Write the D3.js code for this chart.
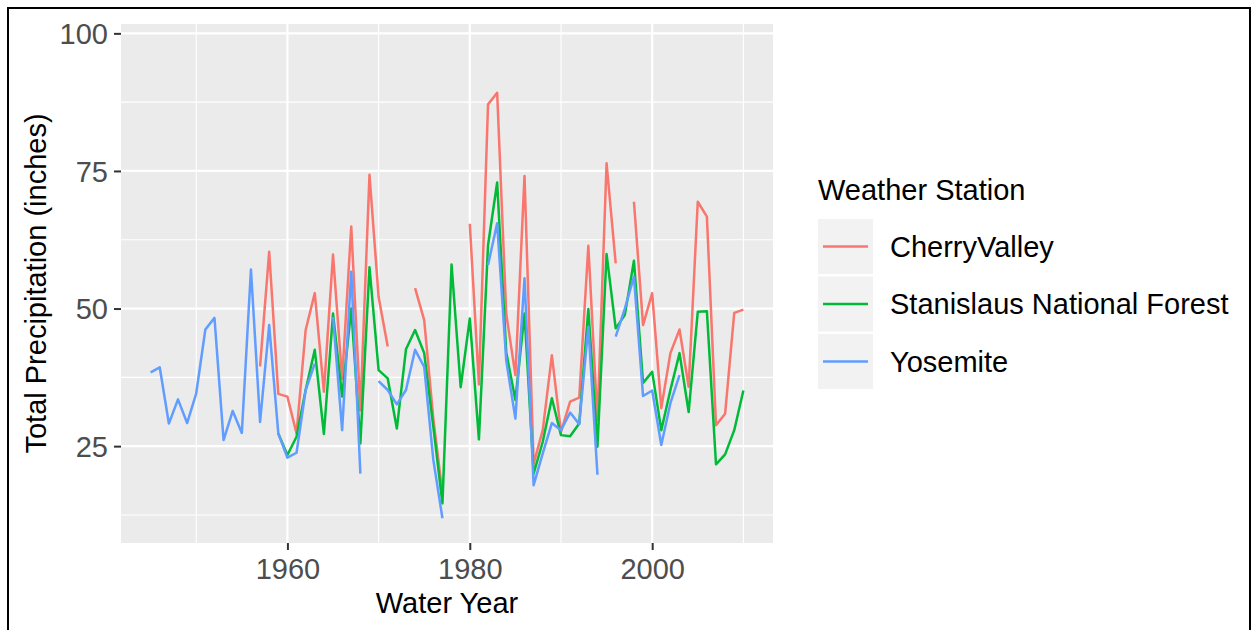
<!DOCTYPE html>
<html>
<head>
<meta charset="utf-8">
<script src="https://cdn.jsdelivr.net/npm/d3@7"></script>
<style>
  html, body { margin: 0; padding: 0; background: #ffffff; }
  svg { display: block; }
  text { font-family: "Liberation Sans", Arial, sans-serif; }
</style>
</head>
<body>
<svg id="chart" width="1257" height="630"></svg>
<script>
// Water years on the x axis
const years = d3.range(1945, 2011);

// Annual totals (inches); null marks years with no record
const cherryValley = [
  null, null, null, null, null, null, null, null, null, null, null, null,   // 1945-1956
  39.5, 60.3, 34.5, 34.0, 27.3, 46.1, 52.8, 34.9, 59.8, 37.2, 64.9, 31.5, 74.3, 52.1, 43.1, // 1957-1971
  null, null,                                                               // 1972-1973
  53.7, 47.9, 30.0, 16.4,                                                   // 1974-1977
  null, null,                                                               // 1978-1979
  65.4, 36.2, 87.1, 89.2, 49.0, 37.9, 74.1, 21.8, 27.9, 41.5, 27.6, 33.1, 33.8, 61.4, 29.7, 76.4, 58.2, // 1980-1996
  null,                                                                     // 1997
  69.4, 47.0, 52.8, 31.9, 41.9, 46.2, 35.8, 69.4, 66.7, 28.8, 30.9, 49.2, 49.8 // 1998-2010
];

const stanislaus = [
  null, null, null, null, null, null, null, null, null, null, null, null, null, null, // 1945-1958
  27.3, 23.4, 26.7, 35.2, 42.5, 27.2, 49.1, 34.0, 50.0, 25.5, 57.5, 38.8, 37.3, 28.2, // 1959-1972
  42.6, 46.1, 41.9, 28.5, 14.6, 58.0, 35.7, 48.2, 26.2, 61.5, 72.9, 42.0, 33.4,       // 1973-1985
  49.1, 20.0, 25.8, 33.7, 27.0, 26.8, 29.1, 49.9, 24.9, 59.9, 46.4, 48.8, 58.7,       // 1986-1998
  36.5, 38.5, 27.9, 35.2, 41.9, 31.2, 49.4, 49.5, 21.7, 23.5, 27.9, 35.1              // 1999-2010
];

const yosemite = [
  38.4, 39.3, 29.1, 33.5, 29.2, 34.6, 46.2, 48.3, 26.1, 31.4, 27.4, 57.1, 29.4, 47.0, // 1945-1958
  27.3, 22.9, 23.8, 35.2, 40.0,                                                       // 1959-1963
  null,                                                                               // 1964
  48.5, 27.9, 56.7, 20.0,                                                             // 1965-1968
  null,                                                                               // 1969
  36.8, 35.2, 32.6, 35.2, 42.5, 39.4, 22.5, 11.9,                                     // 1970-1977
  null, null, null, null,                                                             // 1978-1981
  57.9, 65.5, 40.5, 30.0, 55.5, 17.9, 23.7, 29.2, 27.9, 31.1, 29.0, 46.7, 19.8,       // 1982-1994
  null,                                                                               // 1995
  44.9, 50.0, 55.8, 34.1, 35.1, 25.2, 32.8, 37.9,                                     // 1996-2003
  null, null, null, null, null, null, null                                            // 2004-2010
];

const stationNames = ["CherryValley", "Stanislaus National Forest", "Yosemite"];
const stationColors = ["#F8766D", "#00BA38", "#619CFF"];
const stationValues = [cherryValley, stanislaus, yosemite];

const xMajorTicks = [1960, 1980, 2000];
const xMinorTicks = [1950, 1970, 1990, 2010];
const yMajorTicks = [25, 50, 75, 100];
const yMinorTicks = [12.5, 37.5, 62.5, 87.5];

const legendTitle = "Weather Station";
const xTitle = "Water Year";
const yTitle = "Total Precipitation (inches)";

// ---- layout ----
const svg = d3.select("#chart");
const panel = { left: 121, right: 773, top: 24, bottom: 543 };
const fontSize = 29;

const x = d3.scaleLinear().domain([1941.75, 2013.25]).range([panel.left, panel.right]);
const y = d3.scaleLinear().domain([7.4, 101.7]).range([panel.bottom, panel.top]);

// outer frame
svg.append("rect")
  .attr("x", 8).attr("y", 8)
  .attr("width", 1242).attr("height", 640)
  .attr("fill", "none").attr("stroke", "#000").attr("stroke-width", 2);

// panel background
svg.append("rect")
  .attr("x", panel.left).attr("y", panel.top)
  .attr("width", panel.right - panel.left).attr("height", panel.bottom - panel.top)
  .attr("fill", "#EBEBEB");

const grid = svg.append("g");
// minor grid
grid.selectAll("line.xmin").data(xMinorTicks).join("line")
  .attr("x1", d => x(d)).attr("x2", d => x(d))
  .attr("y1", panel.top).attr("y2", panel.bottom)
  .attr("stroke", "#fff").attr("stroke-width", 1.1);
grid.selectAll("line.ymin").data(yMinorTicks).join("line")
  .attr("x1", panel.left).attr("x2", panel.right)
  .attr("y1", d => y(d)).attr("y2", d => y(d))
  .attr("stroke", "#fff").attr("stroke-width", 1.1);
// major grid
grid.selectAll("line.xmaj").data(xMajorTicks).join("line")
  .attr("x1", d => x(d)).attr("x2", d => x(d))
  .attr("y1", panel.top).attr("y2", panel.bottom)
  .attr("stroke", "#fff").attr("stroke-width", 2.2);
grid.selectAll("line.ymaj").data(yMajorTicks).join("line")
  .attr("x1", panel.left).attr("x2", panel.right)
  .attr("y1", d => y(d)).attr("y2", d => y(d))
  .attr("stroke", "#fff").attr("stroke-width", 2.2);

// data lines, one path per station with gaps where a year is missing
const line = d3.line()
  .defined(d => d.v != null)
  .x(d => x(d.year))
  .y(d => y(d.v));

const lines = svg.append("g");
stationValues.forEach((vals, i) => {
  const pts = years.map((yr, j) => ({ year: yr, v: vals[j] }));
  lines.append("path")
    .datum(pts)
    .attr("d", line)
    .attr("fill", "none")
    .attr("stroke", stationColors[i])
    .attr("stroke-width", 2.5)
    .attr("stroke-linejoin", "round");
});

// axes
const yAxis = d3.axisLeft(y).tickValues(yMajorTicks).tickSize(7).tickPadding(6);
const gy = svg.append("g").attr("transform", `translate(${panel.left},0)`).call(yAxis);
gy.select(".domain").remove();
gy.selectAll(".tick line").attr("stroke", "#333333").attr("stroke-width", 2);
gy.selectAll(".tick text")
  .attr("fill", "#4D4D4D")
  .style("font-size", fontSize + "px")
  .attr("dy", "0.36em");

const xAxis = d3.axisBottom(x).tickValues(xMajorTicks).tickFormat(d3.format("d")).tickSize(7).tickPadding(7);
const gx = svg.append("g").attr("transform", `translate(0,${panel.bottom})`).call(xAxis);
gx.select(".domain").remove();
gx.selectAll(".tick line").attr("stroke", "#333333").attr("stroke-width", 2);
gx.selectAll(".tick text")
  .attr("fill", "#4D4D4D")
  .style("font-size", fontSize + "px")
  .attr("y", 36).attr("dy", 0);

// axis titles
svg.append("text")
  .attr("x", (panel.left + panel.right) / 2).attr("y", 613)
  .attr("text-anchor", "middle")
  .style("font-size", fontSize + "px")
  .attr("fill", "#000")
  .text(xTitle);

svg.append("text")
  .attr("transform", `translate(46,${(panel.top + panel.bottom) / 2}) rotate(-90)`)
  .attr("text-anchor", "middle")
  .style("font-size", fontSize + "px")
  .attr("fill", "#000")
  .text(yTitle);

// legend
const legend = svg.append("g").attr("transform", "translate(818,0)");
legend.append("text")
  .attr("x", 0).attr("y", 200)
  .style("font-size", fontSize + "px")
  .attr("fill", "#000")
  .text(legendTitle);

const keyTop = 219, keyStep = 57.5, keySize = 55;
stationNames.forEach((name, i) => {
  const top = keyTop + i * keyStep;
  const cy = top + keySize / 2;
  legend.append("rect")
    .attr("x", 0).attr("y", top)
    .attr("width", keySize).attr("height", keySize)
    .attr("fill", "#F2F2F2");
  legend.append("line")
    .attr("x1", 5).attr("x2", 50)
    .attr("y1", cy).attr("y2", cy)
    .attr("stroke", stationColors[i]).attr("stroke-width", 2.5);
  legend.append("text")
    .attr("x", 72).attr("y", cy + 10.4)
    .style("font-size", fontSize + "px")
    .attr("fill", "#000")
    .text(name);
});
</script>
</body>
</html>
